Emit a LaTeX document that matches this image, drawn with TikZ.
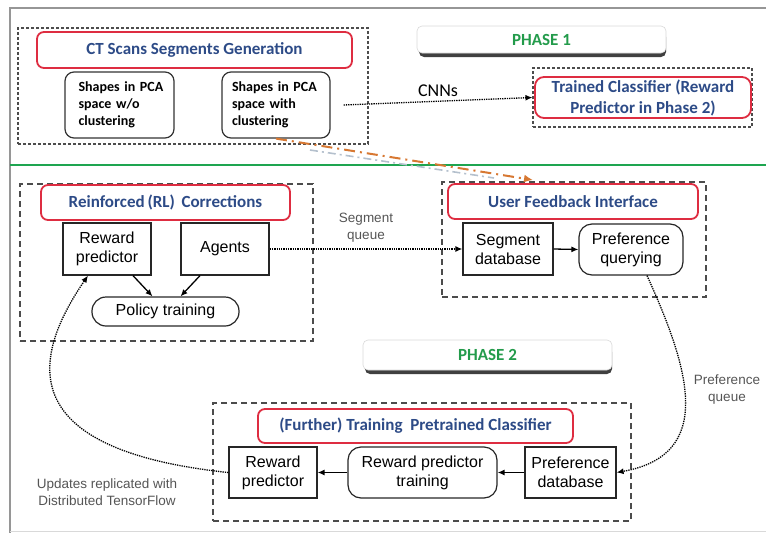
\documentclass[tikz,border=0pt]{standalone}
\usepackage{fontspec}
\setmainfont{Liberation Sans}
\newfontfamily\calibri{Carlito}
\usepackage{xcolor}
\usepackage{tikz}
\usetikzlibrary{positioning}
\usetikzlibrary{arrows.meta}
\definecolor{boxred}{RGB}{222,45,65}
\definecolor{titleblue}{RGB}{45,75,135}
\definecolor{phasegreen}{RGB}{35,155,75}
\definecolor{linegreen}{RGB}{30,165,80}
\definecolor{framegray}{RGB}{150,150,150}
\definecolor{notegray}{RGB}{85,85,85}
\definecolor{linkorange}{RGB}{215,120,50}
\definecolor{linkblue}{RGB}{180,192,205}

\begin{document}
\begin{tikzpicture}[
  x=1pt, y=-1pt,
  line width=1.2pt,
  font=\fontsize{16}{19}\selectfont,
  >={Latex[length=7pt,width=6pt]}
]
\tikzset{
    groupbox/.style = {draw=black!70, dash pattern=on 6pt off 4pt, line width=1.1pt, inner sep=0pt},
    finebox/.style = {groupbox, dash pattern=on 3pt off 2pt},
    titlebox/.style = {draw=boxred, line width=1.8pt, rounded corners=7pt, fill=white, inner sep=0pt,
        text=titleblue, font=\calibri\bfseries\fontsize{17}{20}\selectfont, align=center},
    phasebox/.style = {draw=black!15, line width=0.6pt, rounded corners=5pt, fill=white, inner sep=0pt,
        text=phasegreen, font=\calibri\bfseries\fontsize{17}{20}\selectfont},
    phaseshadow/.style = {fill=black!75, rounded corners=5pt},
    shapebox/.style = {draw=black!80, rounded corners=9pt, inner sep=0pt, text width=94pt, align=left,
        font=\calibri\bfseries\fontsize{14}{17}\selectfont},
    stepbox/.style = {draw=black!85, inner sep=0pt, align=center},
    roundbox/.style = {stepbox, rounded corners=13pt},
    note/.style = {text=notegray, align=center, font=\fontsize{13.5}{17}\selectfont},
    queuelink/.style = {->, densely dotted, line width=1.3pt},
    flowlink/.style = {->, line width=1.3pt}
}
\useasboundingbox (0,0) rectangle (766,533);

% frame and phase divider
\draw[framegray, line width=2pt] (766,8) -- (10,8) -- (10,533);
\draw[black!15, line width=1pt] (10,531) -- (766,531);
\draw[linegreen, line width=2.2pt] (10,165) -- (766,165);

% phase 1
\node[finebox, minimum width=350, minimum height=116] (ctgroup) at (193,86) {};
\node[titlebox, minimum width=315, minimum height=36] (cttitle) at (194.5,50) {CT Scans Segments Generation};
\node[shapebox, minimum width=109, minimum height=66] (shapesA) at (119.5,105) {\hspace*{6pt}Shapes in PCA\\\hspace*{6pt}space w/o\\\hspace*{6pt}clustering};
\node[shapebox, minimum width=108, minimum height=66] (shapesB) at (276,105) {\hspace*{3pt}Shapes in PCA\\\hspace*{3pt}space with\\\hspace*{3pt}clustering};

\fill[phaseshadow] (419,32) rectangle (666,57);
\node[phasebox, minimum width=249, minimum height=27] (phaseone) at (541.5,39.5) {PHASE 1};

\node[finebox, minimum width=219, minimum height=59] (clfgroup) at (642.5,97.5) {};
\node[titlebox, minimum width=216, minimum height=41, rounded corners=9pt,
      font=\calibri\bfseries\fontsize{17}{21}\selectfont] (clftitle) at (643,97.5) {Trained Classifier (Reward\\Predictor in Phase 2)};

\draw[queuelink] ([xshift=13pt]shapesB.east) -- (clfgroup.west)
    node[midway, above=1pt, font=\calibri\fontsize{18}{20}\selectfont] (cnnlabel) {CNNs};

% phase 2: RL corrections
\node[groupbox, minimum width=293, minimum height=157] (rlgroup) at (166.5,262.5) {};
\node[titlebox, minimum width=249, minimum height=35] (rltitle) at (165.5,202.5) {Reinforced\,(RL)\, Corrections};
\node[stepbox, minimum width=88, minimum height=52] (rewardRL) at (107,249) {Reward\\predictor};
\node[stepbox, minimum width=88, minimum height=52] (agents) at (225,249) {Agents};
\node[roundbox, minimum width=147, minimum height=29, rounded corners=14pt] (policy) at (165.5,311.5) {Policy training};

\draw[flowlink] ([xshift=26pt]rewardRL.south) -- ([xshift=-13pt]policy.north);
\draw[flowlink] ([xshift=-25pt]agents.south) -- ([xshift=15pt]policy.north);

% phase 2: user feedback
\node[groupbox, minimum width=264, minimum height=115] (ufgroup) at (574,239.5) {};
\node[titlebox, minimum width=250, minimum height=35] (uftitle) at (573,201.5) {User Feedback Interface};
\node[stepbox, minimum width=90, minimum height=52] (segdb) at (508,249) {Segment\\database};
\node[roundbox, minimum width=104, minimum height=51] (prefq) at (631,249.5) {Preference\\querying};

\draw[flowlink] (segdb.east) -- (prefq.west);
\draw[queuelink] (agents.east) -- (segdb.west)
    node[midway, above=3pt, note] (seglabel) {Segment\\queue};

% link from phase 1 into the feedback interface
\coordinate (shadowA) at (310,150);
\coordinate (shadowB) at (494,178);
\coordinate (uftop) at (533,180);
\draw[linkblue, line width=1.6pt, dash pattern=on 8pt off 4pt on 2pt off 4pt] (shadowA) -- (shadowB);
\draw[linkorange, line width=2pt, dash pattern=on 11pt off 5pt on 2pt off 5pt,
      -{Latex[length=9pt,width=8pt]}] (shapesB.south) -- (uftop);

\fill[phaseshadow] (365,347) rectangle (612,374);
\node[phasebox, minimum width=249, minimum height=30] (phasetwo) at (487.5,355) {PHASE 2};

% phase 2: further training
\node[groupbox, minimum width=418, minimum height=118] (trgroup) at (422,462) {};
\node[titlebox, minimum width=315, minimum height=34] (trtitle) at (415.5,426) {(Further) Training\ \ Pretrained Classifier};
\node[stepbox, minimum width=88, minimum height=51] (rewardB) at (273,472.5) {Reward\\predictor};
\node[roundbox, minimum width=149, minimum height=51] (rptrain) at (422.5,472.5) {Reward predictor\\training};
\node[stepbox, minimum width=91, minimum height=51] (prefdb) at (570.5,472.5) {Preference\\database};

\draw[flowlink] (prefdb.west) -- (rptrain.east);
\draw[flowlink] (rptrain.west) -- (rewardB.east);

% queues between the groups
\draw[queuelink] ([xshift=16pt]prefq.south) .. controls (690,370) and (715,455) .. (prefdb.east);
\node[note] (preflabel) at (727,390) {Preference\\queue};

\draw[queuelink] (rewardB.west) .. controls (15,450) and (30,360) .. ([xshift=-19pt]rewardRL.south);
\node[note] (updlabel) at (107,492) {Updates replicated with\\Distributed TensorFlow};
\end{tikzpicture}
\end{document}
